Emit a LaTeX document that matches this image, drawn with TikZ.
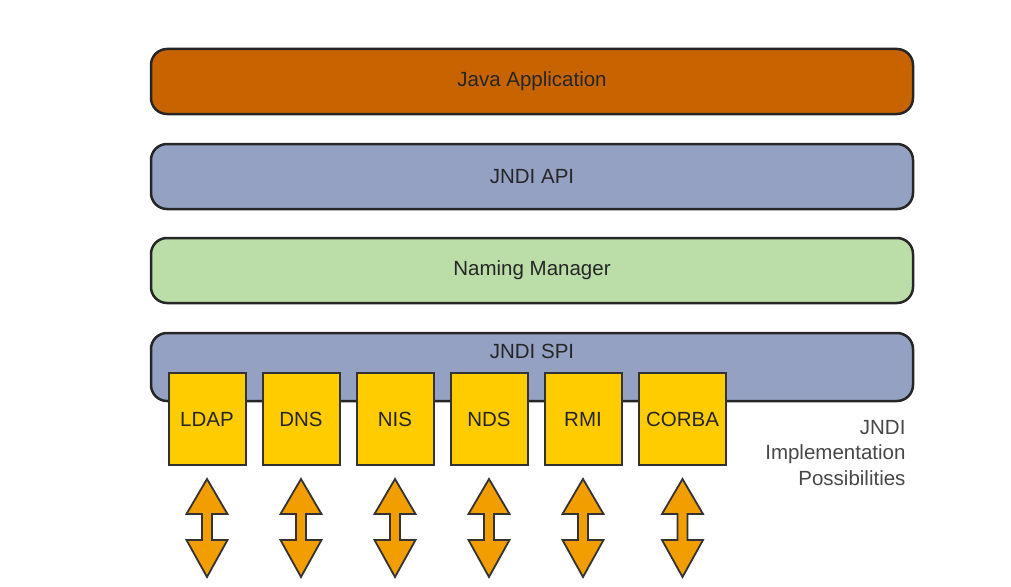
\documentclass[tikz,border=0pt]{standalone}
\usepackage{fontspec}
\setmainfont{Liberation Sans}
\usetikzlibrary{positioning}
\definecolor{appcol}{HTML}{C86400}
\definecolor{jndicol}{HTML}{95A1C3}
\definecolor{namingcol}{HTML}{BBDDA8}
\definecolor{implcol}{HTML}{FFCC00}
\definecolor{dblcol}{HTML}{F29D00}
\definecolor{txtcol}{HTML}{262626}
\begin{document}
\begin{tikzpicture}[x=1pt, y=-1pt]
\useasboundingbox (0,0) rectangle (1011,586);

\tikzset{layer/.style={draw=black!85, line width=2.5pt, rounded corners=16pt,
  minimum width=762pt, minimum height=65pt, inner sep=0pt, text=txtcol,
  font=\fontsize{20.5}{22}\selectfont}}
\tikzset{implbox/.style={draw=black!80, line width=2pt, fill=implcol,
  minimum height=92pt, inner sep=0pt, text=txtcol, font=\fontsize{20.5}{22}\selectfont}}
\tikzset{dblarrow/.style={draw=black!80, line width=1.8pt, fill=dblcol, line join=miter}}

% layers
\node[layer, fill=appcol] (app) at (532,81.5) {Java Application};
\node[layer, fill=jndicol] (api) at (532,176.5) {JNDI API};
\node[layer, fill=namingcol] (naming) at (532,270.5) {Naming Manager};
\node[layer, fill=jndicol, minimum height=68pt] (spi) at (532,367) {};
\node[text=txtcol, font=\fontsize{20.5}{22}\selectfont, below=9pt of spi.north] (spitext) {JNDI SPI};

% implementations
\foreach \name/\label/\x/\w in {ldap/LDAP/207/77, dns/DNS/301/77, nis/NIS/395/77,
    nds/NDS/489/77, rmi/RMI/583/77, corba/CORBA/682.5/87} {
  \node[implbox, minimum width=\w pt] (\name) at (\x,419) {\label};
  \draw[dblarrow, shift={(\x,0)}] (0,479) -- (20.5,514) -- (5,514) -- (5,540)
    -- (20.5,540) -- (0,577) -- (-20.5,540) -- (-5,540) -- (-5,514)
    -- (-20.5,514) -- cycle;
}

\node[anchor=east, align=right, text=txtcol!85, font=\fontsize{20.5}{25.5}\selectfont]
  (implnote) at (909,453) {JNDI\\Implementation\\Possibilities};
\end{tikzpicture}
\end{document}
